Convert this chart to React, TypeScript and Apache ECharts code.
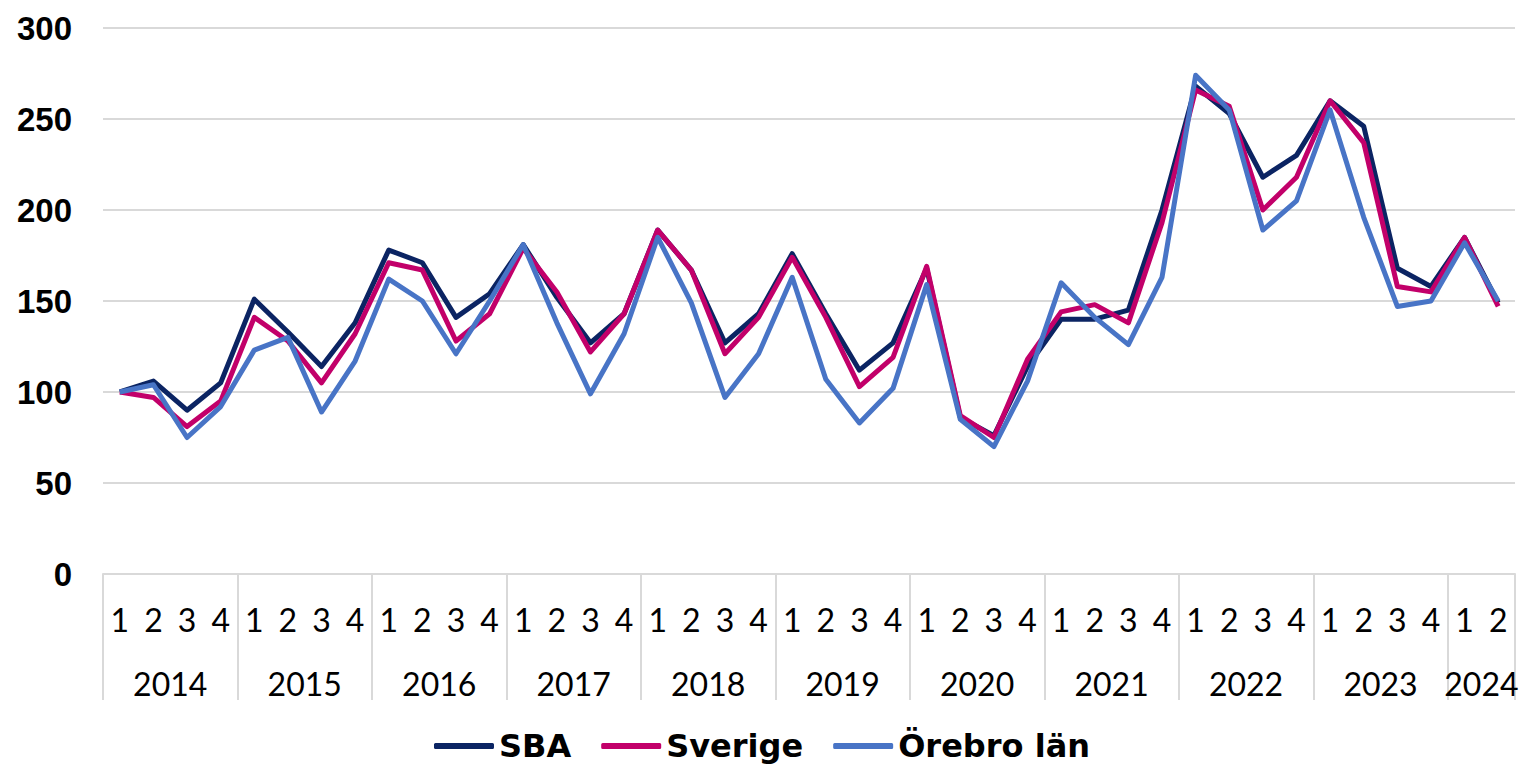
import React, { useEffect, useRef } from "react";
import * as echarts from "echarts";

const years = ["2014", "2015", "2016", "2017", "2018", "2019", "2020", "2021", "2022", "2023", "2024"];
const quartersPerYear = [4, 4, 4, 4, 4, 4, 4, 4, 4, 4, 2];
const quarterLabels = ["1", "2", "3", "4"];

const sba = [100, 106, 90, 105, 151, 133, 114, 138, 178, 171, 141, 154, 181, 152, 127, 143, 189, 167, 127, 143, 176, 143, 112, 127, 168, 86, 76, 114, 140, 140, 145, 200, 268, 253, 218, 230, 260, 246, 168, 158, 185, 149];
const sverige = [100, 97, 81, 95, 141, 128, 105, 132, 171, 167, 128, 143, 179, 155, 122, 143, 189, 167, 121, 141, 174, 141, 103, 119, 169, 87, 75, 118, 144, 148, 138, 193, 266, 257, 200, 218, 260, 237, 158, 155, 185, 147];
const orebro = [100, 104, 75, 92, 123, 130, 89, 117, 162, 150, 121, 150, 181, 138, 99, 132, 185, 149, 97, 121, 163, 107, 83, 102, 159, 85, 70, 106, 160, 141, 126, 163, 274, 255, 189, 205, 255, 196, 147, 150, 182, 150];

const seriesNames = ["SBA", "Sverige", "Örebro län"];
const seriesColors = ["#0b2463", "#c2006a", "#4874c6"];

export default function App() {
  const ref = useRef<HTMLDivElement>(null);
  useEffect(() => {
    document.body.style.margin = "0";
    if (!ref.current) return;
    const chart = echarts.init(ref.current, null, { renderer: "svg" });

    const categories: string[] = [];
    const boundaries: number[] = [0];
    const centers: number[] = [];
    const centerYear: Record<string, string> = {};
    let pos = 0;
    years.forEach((y, i) => {
      for (let q = 0; q < quartersPerYear[i]; q++) categories.push(quarterLabels[q] + "|" + y);
      const c = pos + quartersPerYear[i] / 2;
      centers.push(c);
      centerYear[String(c)] = y;
      pos += quartersPerYear[i];
      boundaries.push(pos);
    });

    const xFont = "Lato, 'DejaVu Sans', sans-serif";
    chart.setOption({
      animation: false,
      grid: { left: 103, right: 9, top: 28, bottom: 193, containLabel: false },
      legend: {
        bottom: 0,
        left: "center",
        itemWidth: 60,
        itemHeight: 6,
        itemGap: 30,
        icon: "roundRect",
        textStyle: { fontFamily: "'DejaVu Sans', sans-serif", fontWeight: "bold", fontSize: 32, color: "#000" },
        data: seriesNames,
      },
      xAxis: [
        {
          type: "category",
          data: categories,
          boundaryGap: true,
          axisLine: { show: true, lineStyle: { color: "#d9d9d9", width: 2 } },
          axisTick: { show: false },
          splitLine: { show: false },
          axisLabel: {
            interval: 0,
            margin: 29,
            fontFamily: xFont,
            fontSize: 32,
            color: "#000",
            formatter: (v: string) => v.split("|")[0],
          },
        },
        {
          type: "value",
          position: "bottom",
          min: 0,
          max: categories.length,
          axisLine: { show: false },
          splitLine: { show: false },
          axisTick: {
            show: true,
            customValues: boundaries,
            length: 126,
            lineStyle: { color: "#d9d9d9", width: 2 },
          },
          axisLabel: {
            show: true,
            customValues: centers,
            margin: 93,
            fontFamily: xFont,
            fontSize: 32,
            color: "#000",
            formatter: (v: number) => centerYear[String(v)] ?? "",
          },
        },
      ],
      yAxis: {
        type: "value",
        min: 0,
        max: 300,
        interval: 50,
        axisLine: { show: false },
        axisTick: { show: false },
        splitLine: { show: true, lineStyle: { color: "#d9d9d9", width: 2 } },
        axisLabel: {
          margin: 31,
          fontFamily: "'Liberation Sans', Arial, sans-serif",
          fontWeight: "bold",
          fontSize: 33,
          color: "#000",
        },
      },
      series: [sba, sverige, orebro].map((d, i) => ({
        name: seriesNames[i],
        type: "line",
        xAxisIndex: 0,
        data: d,
        symbol: "none",
        color: seriesColors[i],
        lineStyle: { width: 5, color: seriesColors[i], join: "round" },
      })),
    });
    return () => chart.dispose();
  }, []);
  return <div ref={ref} style={{ width: 1524, height: 767 }} />;
}
